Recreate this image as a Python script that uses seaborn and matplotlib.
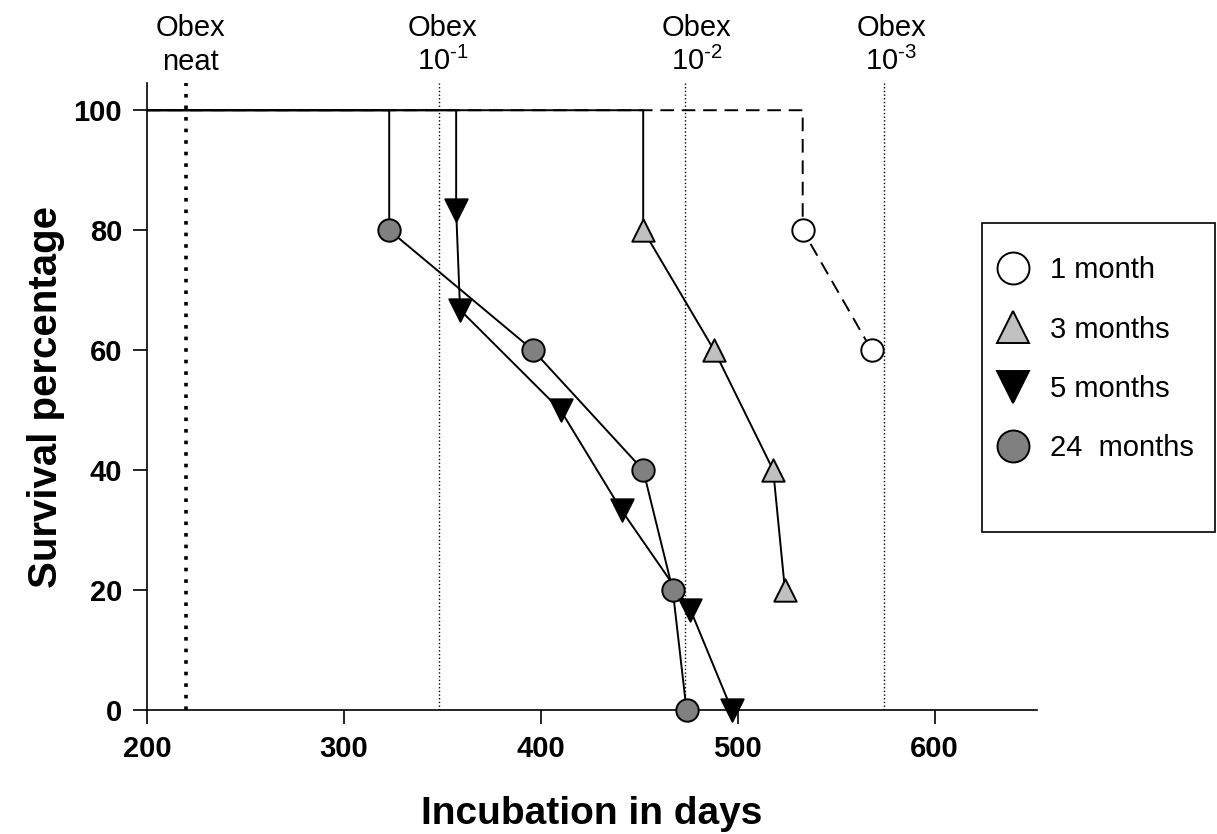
import pandas as pd
import matplotlib.pyplot as plt
import seaborn as sns
from matplotlib.lines import Line2D
from matplotlib.patches import Rectangle

# survival data (days of death, % surviving after each death)
start_day = 200
month1_days = [533, 568]
month1_surv = [80, 60]
month3_days = [452, 488, 518, 524]
month3_surv = [80, 60, 40, 20]
month5_days = [357, 359, 410, 441, 476, 497]
month5_surv = [83.3, 66.7, 50, 33.3, 16.7, 0]
month24_days = [323, 396, 452, 467, 474]
month24_surv = [80, 60, 40, 20, 0]

groups = ["1 month", "3 months", "5 months", "24  months"]

# obex dilution reference lines
obex_days = [220, 348.5, 473, 574.5]
obex_label_x = [222, 350, 479, 578]
obex_sub = ["neat", "10$^{\\text{-}1}$", "10$^{\\text{-}2}$", "10$^{\\text{-}3}$"]

xticks = [200, 300, 400, 500, 600]
yticks = [0, 20, 40, 60, 80, 100]


def build_frames():
    series = [(month1_days, month1_surv), (month3_days, month3_surv),
              (month5_days, month5_surv), (month24_days, month24_surv)]
    paths = []
    points = []
    for name, (days, surv) in zip(groups, series):
        # path starts at 100% and drops vertically at the first death
        px = [start_day, days[0]] + days
        py = [100, 100] + surv
        paths.append(pd.DataFrame({"group": name, "day": px, "surv": py}))
        points.append(pd.DataFrame({"group": name, "day": days, "surv": surv}))
    return pd.concat(paths), pd.concat(points)


def make_figure():
    sns.set_style("ticks")
    plt.rcParams["font.family"] = ["Liberation Sans", "DejaVu Sans"]
    plt.rcParams["mathtext.fontset"] = "custom"
    plt.rcParams["mathtext.rm"] = "Liberation Sans"
    for key in ["text.color", "axes.labelcolor", "xtick.color", "ytick.color",
                "axes.edgecolor"]:
        plt.rcParams[key] = "black"

    paths, points = build_frames()

    fig = plt.figure(figsize=(12.17, 8.34), dpi=100)
    ax = fig.add_axes([0.1208, 0.1487, 0.7313, 0.7515])

    style = {
        "1 month": dict(marker="o", face="white", ls=(0, (7, 4))),
        "3 months": dict(marker="^", face="#c0c0c0", ls="-"),
        "5 months": dict(marker="v", face="black", ls="-"),
        "24  months": dict(marker="o", face="#808080", ls="-"),
    }

    # reference lines first so the data sits on top
    for i, d in enumerate(obex_days):
        lw = 2.6 if i == 0 else 1.0
        ax.axvline(d, color="black", linestyle=(0, (1, 2.2)) if i == 0 else ":",
                   linewidth=lw, zorder=1)
    # two text rows so all labels share the same baselines
    for lx, sub in zip(obex_label_x, obex_sub):
        ax.text(lx, 112.3, "Obex", ha="center", va="baseline", fontsize=21,
                clip_on=False)
        ax.text(lx, 106.7, sub, ha="center", va="baseline", fontsize=21,
                clip_on=False)

    # draw groups in reverse so solid lines cover the dashed one
    for name in groups[::-1]:
        st = style[name]
        sub = paths[paths["group"] == name]
        sns.lineplot(data=sub, x="day", y="surv", sort=False, estimator=None,
                     color="black", linewidth=1.4, linestyle=st["ls"], ax=ax,
                     zorder=3)
        pts = points[points["group"] == name]
        sns.scatterplot(data=pts, x="day", y="surv", marker=st["marker"],
                        color=st["face"], edgecolor="black", linewidth=1.4,
                        s=260, ax=ax, zorder=4, clip_on=False)

    ax.set_xlim(200, 652)
    ax.set_ylim(0, 104.5)
    ax.set_xticks(xticks)
    ax.set_yticks(yticks)
    ax.tick_params(axis="both", direction="out", length=10, width=1.2,
                   labelsize=21, pad=8)
    for t in ax.get_xticklabels() + ax.get_yticklabels():
        t.set_fontweight("bold")
    sns.despine(ax=ax)
    for sp in ["left", "bottom"]:
        ax.spines[sp].set_linewidth(1.2)

    ax.set_xlabel("Incubation in days", fontsize=28, fontweight="bold", labelpad=24)
    ax.set_ylabel("Survival percentage", fontsize=29, fontweight="bold", labelpad=6)

    # legend box drawn as its own rectangle, entries placed inside it
    box = Rectangle((982 / 1217, 1 - 532 / 834), 233 / 1217, 309 / 834,
                    transform=fig.transFigure, fill=False, edgecolor="black",
                    linewidth=1.2)
    fig.patches.append(box)
    handles = []
    for name in groups:
        st = style[name]
        handles.append(Line2D([], [], linestyle="none", marker=st["marker"],
                              markerfacecolor=st["face"], markeredgecolor="black",
                              markeredgewidth=1.4, markersize=23))
    fig.legend(handles, groups, loc="upper left",
               bbox_to_anchor=(997 / 1217, 1 - 256 / 834), frameon=False,
               fontsize=21, labelspacing=1.08, borderpad=0, handletextpad=0.7,
               handlelength=1.1, borderaxespad=0)
    return fig


def run():
    fig = make_figure()
    fig.savefig("out.png", dpi=100)


if __name__ == "__main__":
    run()
